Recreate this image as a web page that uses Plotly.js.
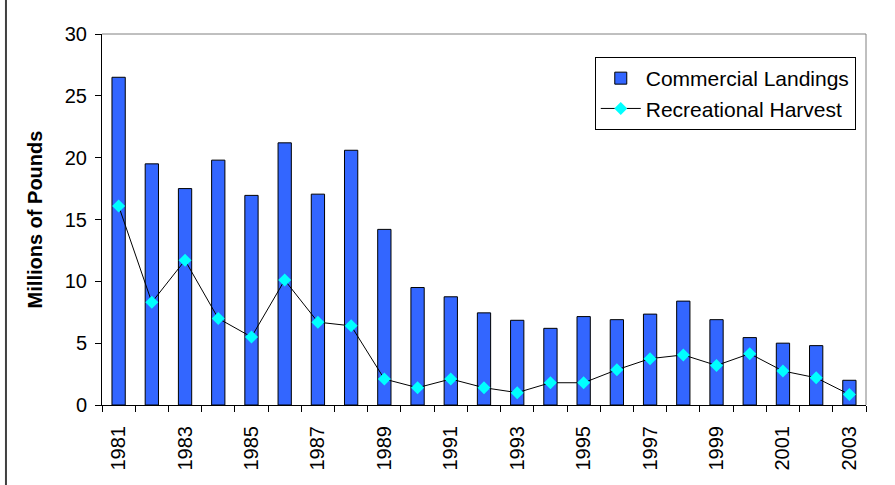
<!DOCTYPE html>
<html>
<head>
<meta charset="utf-8">
<script src="https://cdn.plot.ly/plotly-3.0.1.min.js"></script>
<style>
  html, body { margin: 0; padding: 0; background: #fff; }
  #chart { width: 895px; height: 485px; }
</style>
</head>
<body>
<div id="chart"></div>
<script>
const years = [1981,1982,1983,1984,1985,1986,1987,1988,1989,1990,1991,1992,1993,1994,1995,1996,1997,1998,1999,2000,2001,2002,2003];
const commercialLandings = [26.5,19.5,17.5,19.8,16.95,21.2,17.05,20.6,14.2,9.5,8.75,7.45,6.85,6.2,7.15,6.9,7.35,8.4,6.9,5.45,5.0,4.8,2.0];
const recreationalHarvest = [16.1,8.3,11.7,7.0,5.5,10.1,6.7,6.4,2.1,1.4,2.1,1.4,1.0,1.8,1.8,2.85,3.75,4.05,3.2,4.15,2.75,2.2,0.85];
const labelYears = [1981,1983,1985,1987,1989,1991,1993,1995,1997,1999,2001,2003];
const labelText = labelYears.map(String);
const boundaryVals = years.map(y => y - 0.5).concat([years[years.length-1] + 0.5]);

const FONT = 'Arial, "Liberation Sans", sans-serif';

const traces = [
  {
    type: 'bar',
    name: 'Commercial Landings',
    x: years,
    y: commercialLandings,
    marker: { color: '#3366FF', line: { color: '#000000', width: 1 } },
    hoverinfo: 'x+y'
  },
  {
    type: 'scatter',
    mode: 'lines+markers',
    name: 'Recreational Harvest',
    x: years,
    y: recreationalHarvest,
    line: { color: '#000000', width: 1 },
    marker: { symbol: 'diamond', color: '#00FFFF', size: 10 },
    hoverinfo: 'x+y'
  }
];

const layout = {
  width: 895,
  height: 485,
  margin: { l: 102, r: 29, t: 34, b: 80, pad: 0 },
  paper_bgcolor: '#ffffff',
  plot_bgcolor: '#ffffff',
  font: { family: FONT, color: '#000000', size: 20 },
  bargap: 0.6,
  showlegend: true,
  legend: {
    x: 0.645, y: 0.938, xanchor: 'left', yanchor: 'top',
    bgcolor: '#ffffff', bordercolor: '#000000', borderwidth: 1,
    font: { family: FONT, size: 21, color: '#000000' },
    itemwidth: 40
  },
  xaxis: {
    type: 'linear',
    range: [1980.5, 2003.5],
    tickmode: 'array',
    tickvals: labelYears,
    ticktext: labelText,
    ticks: '',
    tickangle: -90,
    tickfont: { family: FONT, size: 20 },
    ticklabelstandoff: 12,
    showgrid: false,
    zeroline: false,
    showline: true,
    linecolor: '#000000',
    linewidth: 1,
    minor: {
      tickmode: 'array',
      tickvals: boundaryVals,
      ticks: 'outside',
      ticklen: 6,
      tickcolor: '#000000',
      tickwidth: 1,
      showgrid: false
    },
    fixedrange: true
  },
  yaxis: {
    range: [0, 30],
    tickmode: 'linear',
    tick0: 0,
    dtick: 5,
    ticks: 'outside',
    ticklen: 6,
    tickcolor: '#000000',
    tickfont: { family: FONT, size: 20 },
    ticklabelstandoff: 4,
    showgrid: false,
    zeroline: false,
    showline: true,
    linecolor: '#000000',
    linewidth: 1,
    title: { text: '<b>Millions of Pounds</b>', font: { family: FONT, size: 20 }, standoff: 16 },
    fixedrange: true
  },
  shapes: [
    { type: 'line', xref: 'paper', yref: 'paper', x0: 0, x1: 1, y0: 1, y1: 1, line: { color: '#808080', width: 1 } },
    { type: 'line', xref: 'paper', yref: 'paper', x0: 1, x1: 1, y0: 0, y1: 1, line: { color: '#808080', width: 1 } },
    { type: 'line', xref: 'paper', yref: 'paper', x0: -0.1257, x1: -0.1257, y0: -0.25, y1: 1.12, line: { color: '#404040', width: 2 } }
  ]
};

Plotly.newPlot('chart', traces, layout, { displayModeBar: false, staticPlot: true });
</script>
</body>
</html>
